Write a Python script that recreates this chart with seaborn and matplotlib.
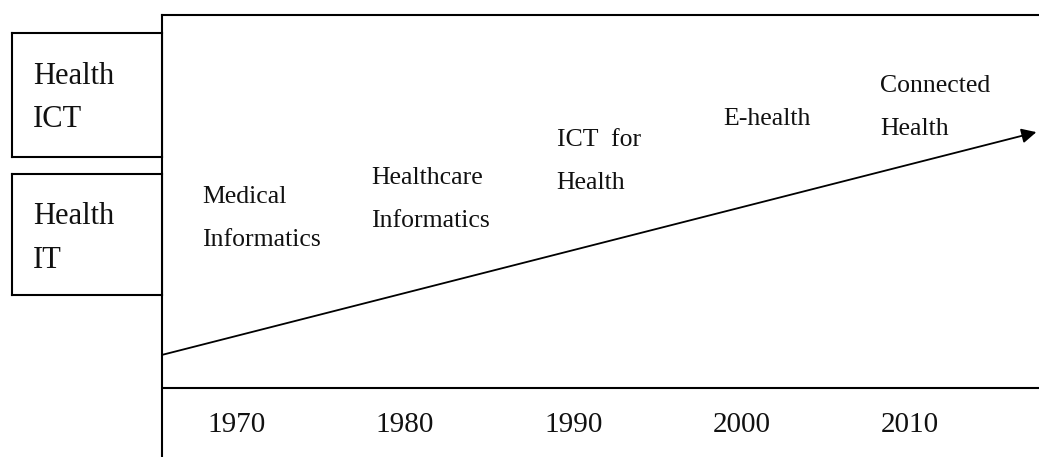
import matplotlib
matplotlib.use("Agg")
import matplotlib.pyplot as plt
import seaborn as sns

# data
years = [1970, 1980, 1990, 2000, 2010]
eras = ["Medical\nInformatics", "Healthcare\nInformatics", "ICT  for\nHealth",
        "E-health", "Connected\nHealth"]
domains = ["Health\nICT", "Health\nIT"]

# layout (axes fraction): top of each era label
era_top = [0.614, 0.656, 0.742, 0.790, 0.864]

sns.set_theme(style="white")
plt.rcParams['font.family'] = ['Liberation Serif', 'DejaVu Serif']

W, H = 1039, 457
fig = plt.figure(figsize=(W / 100, H / 100), dpi=100)

# main timeline panel
ax = fig.add_axes([162 / W, 0, 877 / W, 442 / H])
ax.set_xlim(1965.57, 2017.65)
ax.set_ylim(0, 1)
ax.set_xticks([])
ax.set_yticks([])
for side in ['right', 'bottom']:
    ax.spines[side].set_visible(False)
for side in ['left', 'top']:
    ax.spines[side].set_color('black')
    ax.spines[side].set_linewidth(1.5)
ax.axhline(0.156, color='black', lw=1.5)

# year row
for yr in years:
    ax.text(yr, 0.072, str(yr), ha='center', va='center', fontsize=21,
            color='#111111')

# era labels
for yr, lab, top in zip(years, eras, era_top):
    ax.text(yr + 1.5, top, lab, ha='center', va='top', multialignment='left',
            fontsize=18.5, linespacing=2.25, color='#111111')

# trend arrow
ax.annotate('', xy=(0.997, 0.735), xytext=(0.0, 0.231),
            xycoords='axes fraction', textcoords='axes fraction',
            arrowprops=dict(arrowstyle='-|>', lw=1.3, color='black',
                            mutation_scale=22, shrinkA=0, shrinkB=0))

# left boxes
box_pos = [[12 / W, (H - 157) / H, 150 / W, 124 / H],
           [12 / W, (H - 295) / H, 150 / W, 121 / H]]
for name, pos in zip(domains, box_pos):
    bx = fig.add_axes(pos)
    bx.set_xticks([])
    bx.set_yticks([])
    for s in bx.spines.values():
        s.set_color('black')
        s.set_linewidth(1.5)
    bx.text(0.14, 0.765, name, ha='left', va='top', fontsize=22,
            linespacing=1.65, color='#111111', transform=bx.transAxes)

fig.savefig('out.png', dpi=100)
